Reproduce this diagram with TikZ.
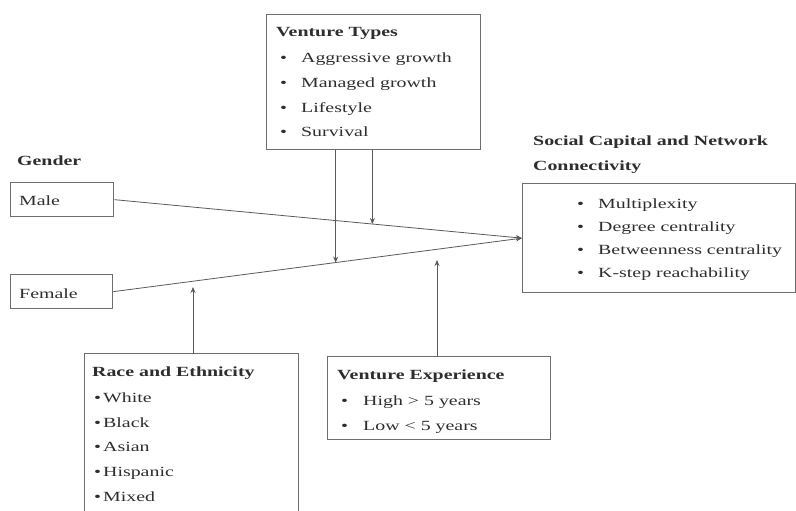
\documentclass[tikz,border=0pt]{standalone}
\usepackage{fontspec}
\setmainfont{Liberation Serif}[FakeStretch=1.42]
\usetikzlibrary{arrows.meta}

\definecolor{inkgray}{HTML}{2E2E2E}
\definecolor{boxgray}{HTML}{6E6E6E}
\definecolor{linegray}{HTML}{5A5A5A}

\newcommand{\blt}[1]{\makebox[#1][l]{\textbullet}}

\tikzset{
	box/.style={draw=boxgray,line width=1.3pt,anchor=north west,inner sep=0pt},
	item/.style={anchor=base west,inner sep=0pt,text=inkgray},
	head/.style={item,font=\fontsize{14}{24}\selectfont\bfseries},
	link/.style={draw=linegray,line width=0.8pt},
	tip/.style={link,-{Stealth[length=6pt,width=5pt]}}
}

\begin{document}
\begin{tikzpicture}[x=1pt,y=-1pt,font=\fontsize{14}{24}\selectfont]
			\clip (0,0) rectangle (796,511);
			\fill[white] (0,0) rectangle (796,511);

			% gender
			\node[head] (gender) at (17,165) {Gender};
			\node[box,minimum width=103pt,minimum height=34pt] (male) at (10,182) {};
			\node[item] (maletxt) at (19,205) {Male};
			\node[box,minimum width=102pt,minimum height=34pt] (female) at (10,274) {};
			\node[item] (femaletxt) at (19,298) {Female};

			% venture types
			\node[box,minimum width=214pt,minimum height=135pt] (types) at (266,14) {};
			\node[head] (typestitle) at (276,37) {Venture Types};
			\foreach \t [count=\i] in {Aggressive growth,Managed growth,Lifestyle,Survival}
				\node[item] (types-\i) at (280,{38+24.7*\i}) {\blt{21pt}\t};

			% social capital
			\node[head] (nettitle) at (533,145) {Social Capital and Network};
			\node[head] (nettitle2) at (533,170) {Connectivity};
			\node[box,minimum width=273pt,minimum height=109pt] (net) at (522,183) {};
			\foreach \t [count=\i] in {Multiplexity,Degree centrality,Betweenness centrality,K-step reachability}
				\node[item] (net-\i) at (577,{185+23*\i}) {\blt{21pt}\t};

			% race
			\node[box,minimum width=214pt,minimum height=180pt] (race) at (84,353) {};
			\node[head] (racetitle) at (92,376) {Race and Ethnicity};
			\foreach \t [count=\i] in {White,Black,Asian,Hispanic,Mixed}
				\node[item] (race-\i) at (94,{378+24.6*\i}) {\blt{9pt}\t};

			% experience
			\node[box,minimum width=223pt,minimum height=83pt] (exp) at (327,356) {};
			\node[head] (exptitle) at (337,379) {Venture Experience};
			\node[item] (exp-1) at (341,405) {\blt{22pt}High > 5 years};
			\node[item] (exp-2) at (341,430) {\blt{22pt}Low < 5 years};

			% connectors
			\draw[tip] (male.east) -- coordinate[pos=0.633] (onmale) (net.west);
			\draw[tip] (female.east) -- coordinate[pos=0.544] (onfemale) (net.west);
			\draw[tip] (types.south -| onmale) -- (onmale);
			\draw[tip] (types.south -| onfemale) -- (onfemale);
			\coordinate (raceend) at (193,287);
			\coordinate (expend) at (437,260);
			\draw[tip] (race.north -| raceend) -- (raceend);
			\draw[tip] (exp.north -| expend) -- (expend);
		\end{tikzpicture}
\end{document}
